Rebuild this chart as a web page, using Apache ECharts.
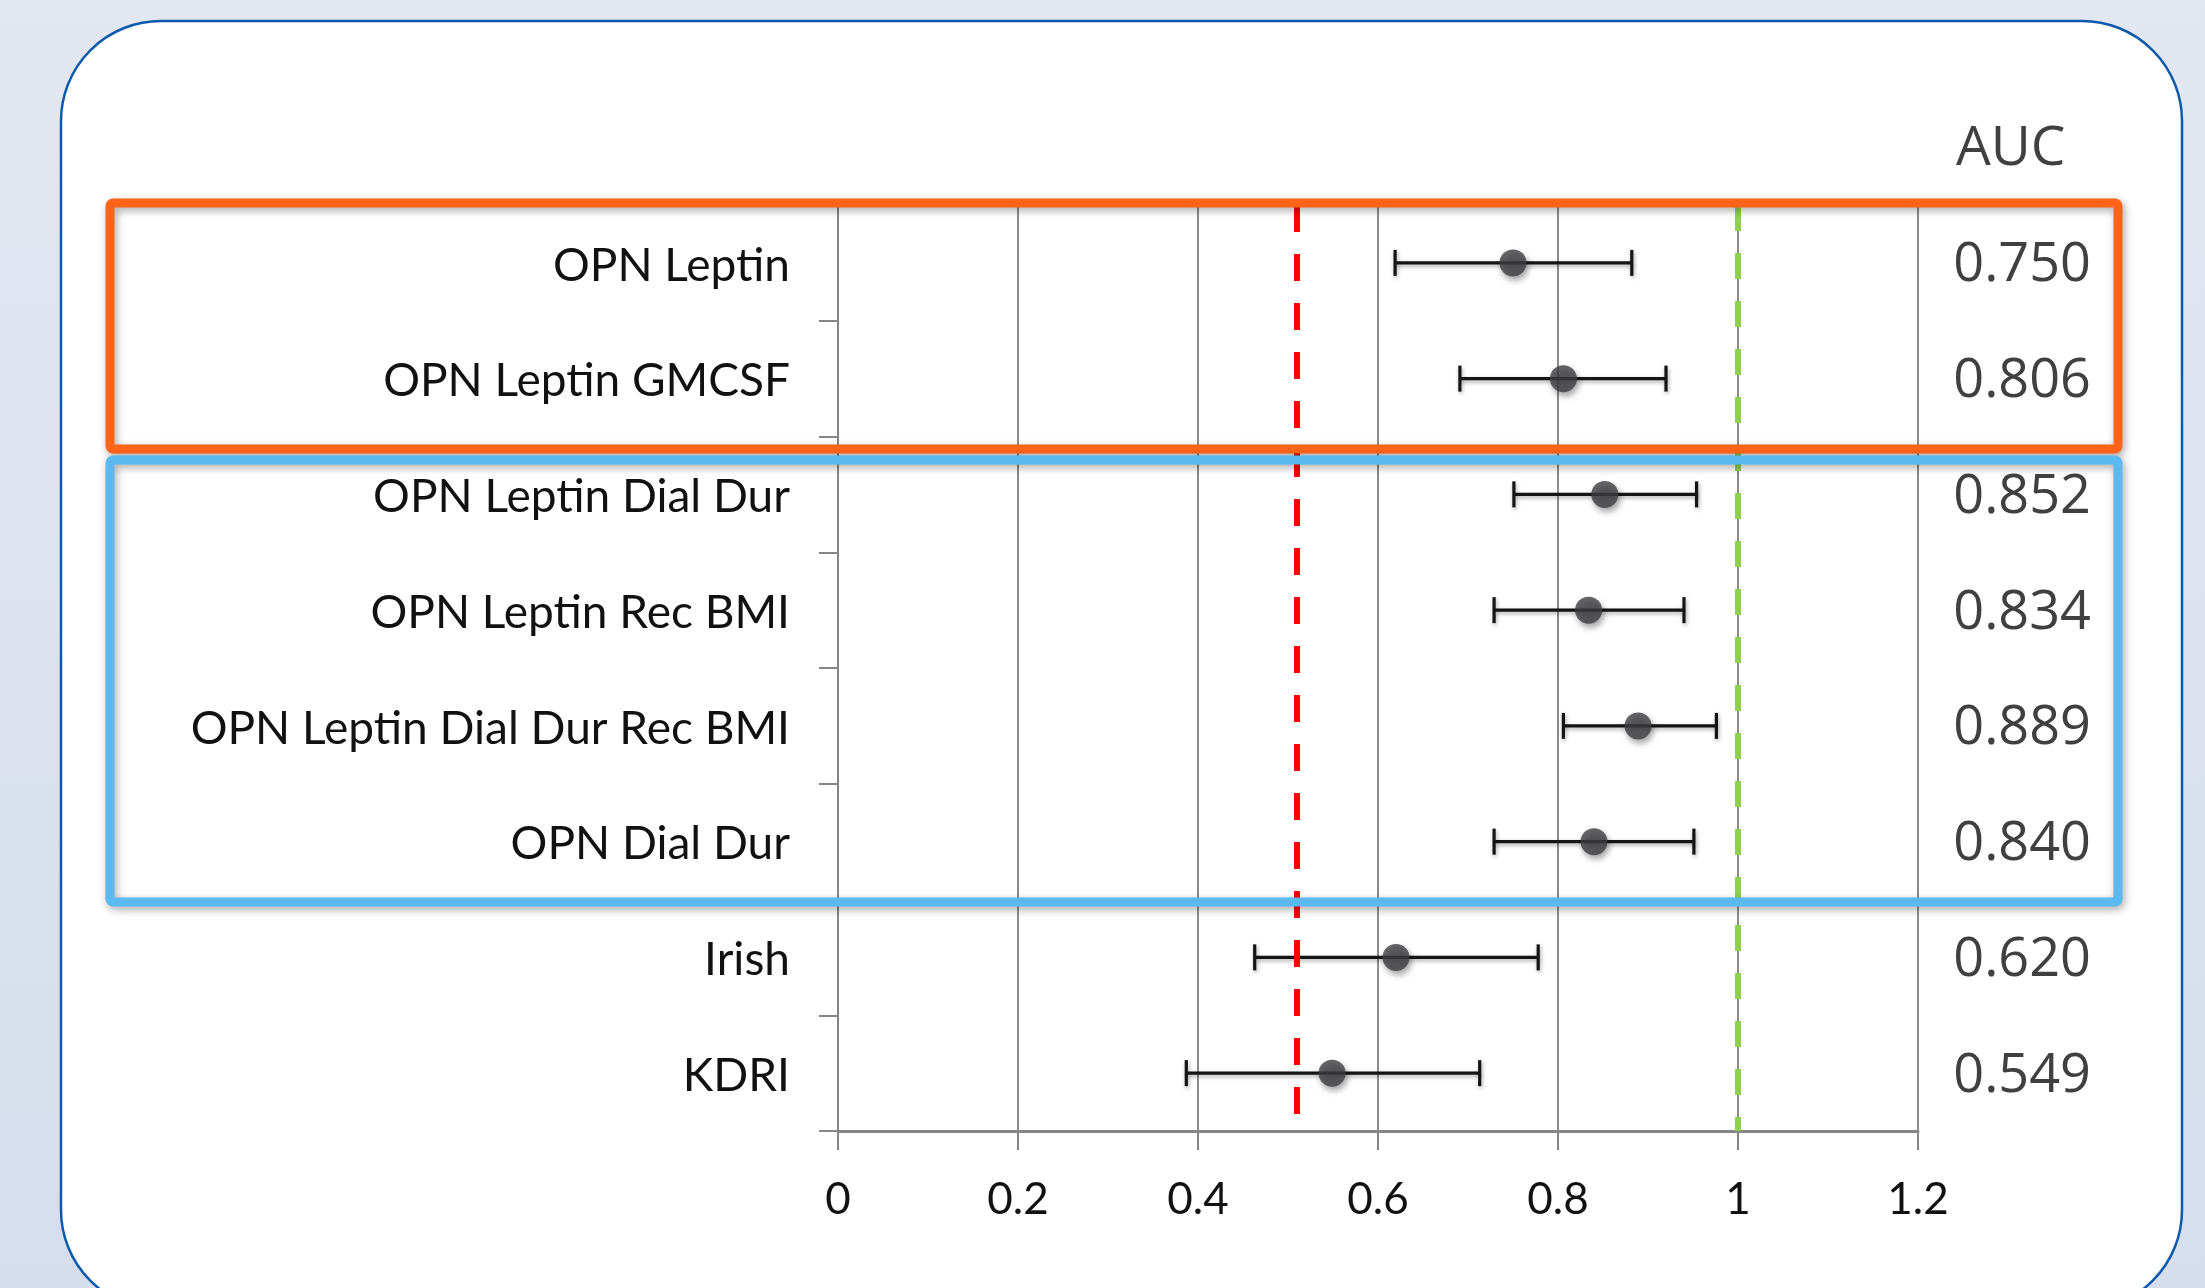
<!DOCTYPE html>
<html>
<head>
<meta charset="utf-8">
<title>AUC forest plot</title>
<script src="https://cdn.jsdelivr.net/npm/echarts@6/dist/echarts.min.js"></script>
<style>
  html, body { margin: 0; padding: 0; width: 2205px; height: 1288px; overflow: hidden; }
  #chart { width: 2205px; height: 1288px; }
</style>
</head>
<body>
<div id="chart"></div>
<script>
// Models compared, top to bottom
const categories = [
  'OPN Leptin',
  'OPN Leptin GMCSF',
  'OPN Leptin Dial Dur',
  'OPN Leptin Rec BMI',
  'OPN Leptin Dial Dur Rec BMI',
  'OPN Dial Dur',
  'Irish',
  'KDRI'
];
// Area under the ROC curve for each model
const auc = [0.750, 0.806, 0.852, 0.834, 0.889, 0.840, 0.620, 0.549];
// 95% confidence interval bounds
const ciLower = [0.619, 0.691, 0.751, 0.729, 0.806, 0.729, 0.463, 0.387];
const ciUpper = [0.882, 0.920, 0.954, 0.940, 0.976, 0.951, 0.778, 0.713];
// Reference lines: chance level and perfect discrimination
const chanceLine = 0.505;
const perfectLine = 1;
// x axis
const xMin = 0, xMax = 1.2, xStep = 0.2;

const chart = echarts.init(document.getElementById('chart'));

const labelFont = 'Lato';
const valueFont = '"Open Sans"';

const option = {
  backgroundColor: {
    type: 'linear', x: 0, y: 0, x2: 0, y2: 1,
    colorStops: [{ offset: 0, color: '#e2e7f1' }, { offset: 1, color: '#d6deed' }]
  },
  animation: false,
  title: {
    text: 'AUC',
    left: 1951,
    top: 117,
    textStyle: { fontFamily: valueFont, fontSize: 55, fontWeight: 'normal', color: '#404040' }
  },
  grid: { left: 838, right: 287, top: 205, bottom: 157 },
  xAxis: {
    type: 'value',
    min: xMin, max: xMax, interval: xStep,
    axisLine: { show: true, lineStyle: { color: '#868686', width: 3 } },
    axisTick: { show: true, length: 19, lineStyle: { color: '#868686', width: 2 } },
    axisLabel: {
      margin: 47,
      fontFamily: labelFont, fontSize: 44, color: '#111',
      formatter: v => String(Math.round(v * 10) / 10)
    },
    splitLine: { show: true, lineStyle: { color: '#8c8c8c', width: 2 } }
  },
  yAxis: [
    {
      type: 'category',
      data: categories,
      inverse: true,
      axisLine: { show: true, lineStyle: { color: '#868686', width: 2 } },
      axisTick: { show: true, length: 19, lineStyle: { color: '#868686', width: 2 } },
      axisLabel: {
        margin: 48,
        formatter: v => '{t|' + v + '}',
        rich: { t: { padding: [6, 0, 0, 0], fontFamily: labelFont, fontSize: 46, color: '#111' } }
      },
      splitLine: { show: false }
    },
    {
      type: 'category',
      data: auc.map(v => v.toFixed(3)),
      inverse: true,
      position: 'right',
      axisLine: { show: false },
      axisTick: { show: false },
      axisLabel: {
        margin: 173, align: 'right',
        formatter: v => '{t|' + v + '}',
        rich: { t: { padding: [6, 0, 0, 0], fontFamily: valueFont, fontSize: 54, color: '#404040' } }
      },
      splitLine: { show: false }
    }
  ],
  series: [
    {
      // confidence interval whiskers
      type: 'custom',
      yAxisIndex: 0,
      z: 3,
      data: categories.map((c, i) => [i, ciLower[i], ciUpper[i]]),
      encode: { x: [1, 2], y: 0 },
      renderItem: function (params, api) {
        const idx = api.value(0);
        const p0 = api.coord([api.value(1), idx]);
        const p1 = api.coord([api.value(2), idx]);
        const cap = 13;
        const style = {
          stroke: '#151515', lineWidth: 3.2, fill: null,
          shadowBlur: 4, shadowColor: 'rgba(0,0,0,0.35)', shadowOffsetX: 1, shadowOffsetY: 2
        };
        return {
          type: 'group',
          children: [
            { type: 'line', shape: { x1: p0[0], y1: p0[1], x2: p1[0], y2: p1[1] }, style: style },
            { type: 'line', shape: { x1: p0[0], y1: p0[1] - cap, x2: p0[0], y2: p0[1] + cap }, style: style },
            { type: 'line', shape: { x1: p1[0], y1: p1[1] - cap, x2: p1[0], y2: p1[1] + cap }, style: style }
          ]
        };
      }
    },
    {
      // AUC point estimates
      type: 'scatter',
      yAxisIndex: 0,
      z: 5,
      symbol: 'circle',
      symbolSize: 27,
      data: auc.map((v, i) => [v, i]),
      itemStyle: {
        color: '#3e3e41',
        shadowBlur: 6, shadowColor: 'rgba(0,0,0,0.45)', shadowOffsetX: 2, shadowOffsetY: 4
      },
      markLine: {
        silent: true,
        symbol: 'none',
        label: { show: false },
        z: 4,
        data: [
          { xAxis: chanceLine, lineStyle: { color: '#ff0000', width: 6, type: [27, 22], cap: 'butt' } },
          { xAxis: perfectLine, lineStyle: { color: '#8fd14f', width: 6, type: [26, 22], cap: 'butt' } }
        ]
      }
    }
  ],
  graphic: [
    {
      // panel frame
      type: 'rect', z: -10, silent: true,
      shape: { x: 61, y: 21, width: 2121, height: 1289, r: 100 },
      style: { fill: '#ffffff', stroke: '#0c5aab', lineWidth: 2.5 }
    },
    {
      // biomarker-only models
      type: 'rect', z: 100, silent: true,
      shape: { x: 110, y: 203, width: 2008, height: 246, r: 3 },
      style: {
        fill: null, stroke: '#ff6419', lineWidth: 9,
        shadowBlur: 8, shadowColor: 'rgba(0,0,0,0.35)', shadowOffsetX: 2, shadowOffsetY: 3
      }
    },
    {
      // models with clinical covariates
      type: 'rect', z: 100, silent: true,
      shape: { x: 110, y: 460, width: 2008, height: 442, r: 3 },
      style: {
        fill: null, stroke: '#5bb9f1', lineWidth: 9,
        shadowBlur: 8, shadowColor: 'rgba(0,0,0,0.35)', shadowOffsetX: 2, shadowOffsetY: 3
      }
    }
  ]
};

chart.setOption(option);
</script>
</body>
</html>
